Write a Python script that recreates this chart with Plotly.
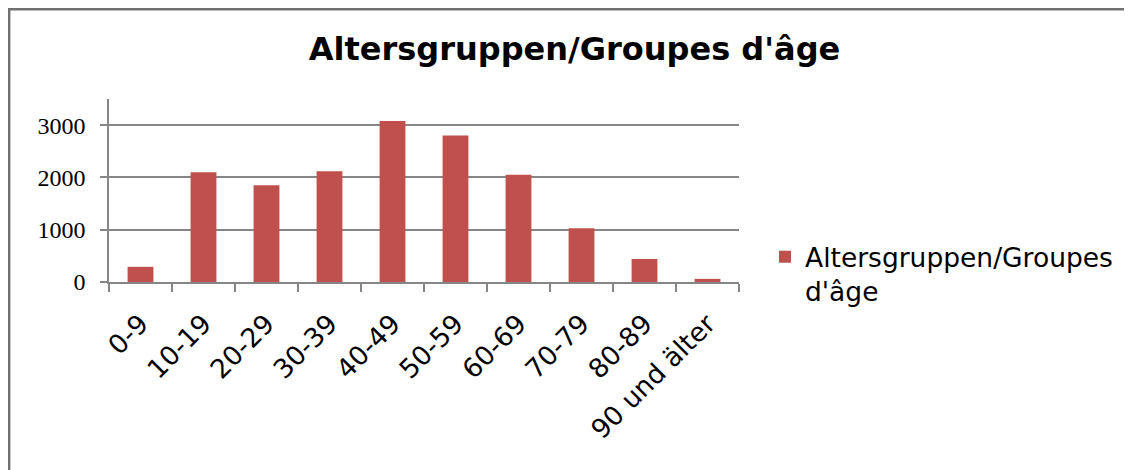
import plotly.graph_objects as go

categories = ["0-9", "10-19", "20-29", "30-39", "40-49", "50-59", "60-69", "70-79", "80-89", "90 und älter"]
values = [290, 2100, 1850, 2120, 3080, 2800, 2050, 1030, 440, 60]
series_name = "Altersgruppen/Groupes<br>d'âge"
title_text = "Altersgruppen/Groupes d'âge"
y_ticks = [0, 1000, 2000, 3000]

OFF = 8  # page body margin
W, H = 1124, 462
# target screenshot coords of plot area
SX0, SX1, SY0, SY1 = 109, 739, 99, 282
L, T = SX0 - OFF, SY0 - OFF
R = W - (SX1 - OFF)
B = H - (SY1 - OFF)
pw = W - L - R
ph = H - T - B

def px(sx):
    return (sx - OFF - L) / pw

def py(sy):
    return (T + ph - (sy - OFF)) / ph

axis_col = "#868686"

fig = go.Figure()
fig.add_bar(x=categories, y=values, name=series_name, marker_color="#C0504D",
            marker_line_width=0, showlegend=True)

fig.update_layout(
    width=W, height=H, autosize=False,
    margin=dict(l=L, r=R, t=T, b=B, pad=0),
    paper_bgcolor="white", plot_bgcolor="white",
    bargap=0.59,
    title=dict(text=title_text, x=(574.5 - OFF) / W, xref="container", xanchor="center",
               y=1 - (49 - OFF) / H, yref="container", yanchor="middle",
               font=dict(family="DejaVu Sans", size=32, color="black", weight="bold")),
    legend=dict(x=px(765), xanchor="left", y=py(233), yanchor="top",
                font=dict(family="DejaVu Sans", size=26.5, color="black"),
                valign="top", bgcolor="rgba(0,0,0,0)", itemwidth=30),
    xaxis=dict(type="category", tickson="boundaries", ticks="outside", ticklen=8,
               tickcolor=axis_col, tickwidth=1.5, showline=True, linecolor=axis_col,
               linewidth=1.5, showgrid=False, tickangle=-45, ticklabelstandoff=14,
               tickfont=dict(family="DejaVu Sans", size=26.5, color="black")),
    yaxis=dict(range=[0, 3500], tickvals=y_ticks, showgrid=True, gridcolor=axis_col,
               gridwidth=1.5, ticks="outside", ticklen=7, tickcolor=axis_col, tickwidth=1.5,
               showline=True, linecolor=axis_col, linewidth=1.5, zeroline=False,
               ticklabelstandoff=10,
               tickfont=dict(family="Liberation Serif", size=24, color="black")),
)

# outer chart frame: only its left and top edges fall inside the window
frame = dict(color="#707070", width=2.4)
fig.add_shape(type="line", xref="paper", yref="paper",
              x0=px(9.2), x1=px(9.2), y0=py(9.2 - 1.2), y1=py(520), line=frame, layer="below")
fig.add_shape(type="line", xref="paper", yref="paper",
              x0=px(9.2 - 1.2), x1=px(1200), y0=py(9.2), y1=py(9.2), line=frame, layer="below")

fig.write_html("out.html")
